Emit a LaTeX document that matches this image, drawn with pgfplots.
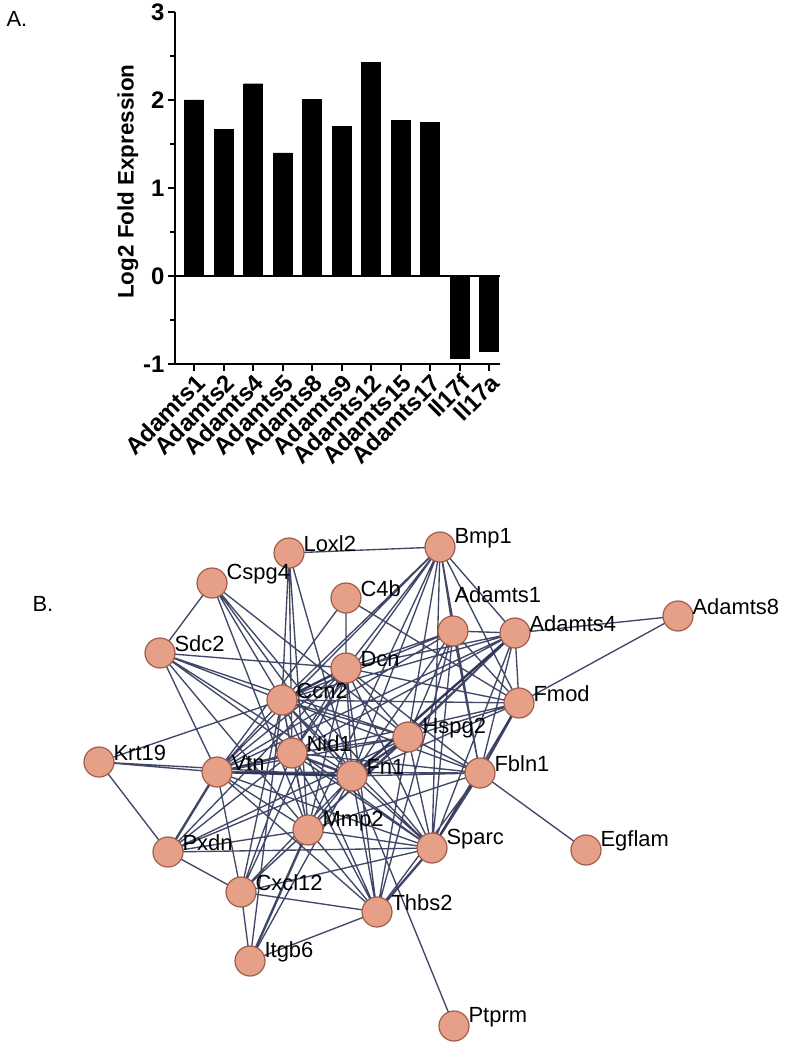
\documentclass[border=0pt]{standalone}
\usepackage{pgfplots}
\pgfplotsset{compat=1.18}
\usepackage{fontspec}
\setmainfont{Liberation Sans}

\definecolor{nodefill}{RGB}{230,160,136}
\definecolor{nodeline}{RGB}{160,92,74}
\definecolor{edgecol}{RGB}{44,52,86}

\pgfplotstableread{
x y label
289 553 Loxl2
440 547 Bmp1
212 583 Cspg4
346 598 C4b
515 633 Adamts4
678 616 Adamts8
160 653 Sdc2
346 668 Dcn
519 703 Fmod
282 700 Ccn2
408 737 Hspg2
292 753 Nid1
99 762 Krt19
217 772 Vtn
352 776 Fn1
480 773 Fbln1
308 830 Mmp2
168 852 Pxdn
432 848 Sparc
586 850 Egflam
241 892 Cxcl12
377 912 Thbs2
250 961 Itgb6
454 1026 Ptprm
}\genes

\begin{document}
\begin{tikzpicture}
\path[use as bounding box] (0,0) rectangle (792bp,1045bp);
\node[anchor=base west, font=\fontsize{22}{22}\selectfont] at (3bp,1018bp) {A.};
\node[anchor=base west, font=\fontsize{22}{22}\selectfont] at (29bp,433bp) {B.};

% panel A: bar chart
\begin{axis}[
  at={(175bp,681bp)}, anchor=south west,
  scale only axis, width=325bp, height=352bp,
  xmin=-0.65, xmax=10.37, ymin=-1, ymax=3,
  axis lines*=left,
  axis line style={line width=2.2bp},
  every tick/.style={black, line width=2bp},
  major tick length=7bp, minor tick length=5bp,
  tick align=outside,
  xtick={0,...,10},
  xticklabels={Adamts1,Adamts2,Adamts4,Adamts5,Adamts8,Adamts9,Adamts12,Adamts15,Adamts17,Il17f,Il17a},
  x tick label style={rotate=45, anchor=north east, inner sep=1pt},
  ytick={-1,0,1,2,3},
  minor ytick={-0.5,0.5,1.5,2.5},
  ticklabel style={font=\fontsize{24}{24}\selectfont\bfseries},
  /pgf/number format/assume math mode=true,
  ylabel={Log2 Fold Expression},
  every axis y label/.style={at={(axis description cs:-0.145,0.518)}, rotate=90, anchor=center, font=\fontsize{22.5}{22.5}\selectfont\bfseries},
  ybar, bar width=19bp,
  clip=false,
]
\addplot[fill=black, draw=black] coordinates {
  (0,2.00) (1,1.667) (2,2.185) (3,1.40) (4,2.01) (5,1.70)
  (6,2.43) (7,1.765) (8,1.746) (9,-0.935) (10,-0.85)};
\addplot[sharp plot, black, line width=2bp] coordinates {(-0.65,0) (10.37,0)};
\end{axis}

% panel B: network
\begin{axis}[
  at={(0,0)}, anchor=south west,
  scale only axis, width=792bp, height=1045bp,
  xmin=0, xmax=792, ymin=0, ymax=1045, y dir=reverse,
  hide axis, clip=false,
  unbounded coords=jump,
]
\addplot[edgecol, line width=1.35bp, opacity=0.9] coordinates {
(289,553) (440,547) (nan,nan) (289,553) (282,700) (nan,nan) (289,553) (292,753) (nan,nan)
(289,553) (352,776) (nan,nan) (289,553) (308,830) (nan,nan) (212,583) (160,653) (nan,nan)
(212,583) (282,700) (nan,nan) (212,583) (352,776) (nan,nan) (212,583) (408,737) (nan,nan)
(212,583) (308,830) (nan,nan) (212,583) (432,848) (nan,nan) (346,598) (346,668) (nan,nan)
(346,598) (217,772) (nan,nan) (346,598) (519,703) (nan,nan) (160,653) (217,772) (nan,nan)
(160,653) (346,668) (nan,nan) (160,653) (352,776) (nan,nan) (160,653) (282,700) (nan,nan)
(160,653) (308,830) (nan,nan) (160,653) (408,737) (nan,nan) (160,653) (432,848) (nan,nan)
(99,762) (282,700) (nan,nan) (99,762) (217,772) (nan,nan) (99,762) (352,776) (nan,nan)
(99,762) (168,852) (nan,nan) (440,547) (346,668) (nan,nan) (440,547) (282,700) (nan,nan)
(440,547) (352,776) (nan,nan) (440,547) (408,737) (nan,nan) (440,547) (453,631) (nan,nan)
(440,547) (515,633) (nan,nan) (440,547) (519,703) (nan,nan) (440,547) (480,773) (nan,nan)
(440,547) (432,848) (nan,nan) (440,547) (292,753) (nan,nan) (440,547) (308,830) (nan,nan)
(440,547) (217,772) (nan,nan) (453,631) (515,633) (nan,nan) (453,631) (346,668) (nan,nan)
(453,631) (352,776) (nan,nan) (453,631) (282,700) (nan,nan) (453,631) (408,737) (nan,nan)
(453,631) (480,773) (nan,nan) (453,631) (432,848) (nan,nan) (453,631) (217,772) (nan,nan)
(453,631) (519,703) (nan,nan) (453,631) (377,912) (nan,nan) (515,633) (678,616) (nan,nan)
(515,633) (519,703) (nan,nan) (515,633) (346,668) (nan,nan) (515,633) (352,776) (nan,nan)
(515,633) (282,700) (nan,nan) (515,633) (408,737) (nan,nan) (515,633) (480,773) (nan,nan)
(515,633) (217,772) (nan,nan) (515,633) (308,830) (nan,nan) (515,633) (432,848) (nan,nan)
(515,633) (292,753) (nan,nan) (678,616) (519,703) (nan,nan) (519,703) (346,668) (nan,nan)
(519,703) (352,776) (nan,nan) (519,703) (432,848) (nan,nan) (519,703) (408,737) (nan,nan)
(519,703) (282,700) (nan,nan) (519,703) (217,772) (nan,nan) (346,668) (282,700) (nan,nan)
(346,668) (352,776) (nan,nan) (346,668) (408,737) (nan,nan) (346,668) (292,753) (nan,nan)
(346,668) (217,772) (nan,nan) (346,668) (308,830) (nan,nan) (346,668) (432,848) (nan,nan)
(346,668) (480,773) (nan,nan) (346,668) (377,912) (nan,nan) (346,668) (241,892) (nan,nan)
(346,668) (168,852) (nan,nan) (282,700) (352,776) (nan,nan) (282,700) (292,753) (nan,nan)
(282,700) (408,737) (nan,nan) (282,700) (217,772) (nan,nan) (282,700) (308,830) (nan,nan)
(282,700) (432,848) (nan,nan) (282,700) (377,912) (nan,nan) (282,700) (241,892) (nan,nan)
(282,700) (480,773) (nan,nan) (282,700) (250,961) (nan,nan) (408,737) (292,753) (nan,nan)
(408,737) (217,772) (nan,nan) (408,737) (308,830) (nan,nan) (408,737) (432,848) (nan,nan)
(408,737) (480,773) (nan,nan) (408,737) (377,912) (nan,nan) (408,737) (168,852) (nan,nan)
(408,737) (241,892) (nan,nan) (292,753) (217,772) (nan,nan) (292,753) (308,830) (nan,nan)
(292,753) (432,848) (nan,nan) (292,753) (480,773) (nan,nan) (292,753) (377,912) (nan,nan)
(292,753) (241,892) (nan,nan) (292,753) (168,852) (nan,nan) (217,772) (352,776) (nan,nan)
(217,772) (241,892) (nan,nan) (217,772) (308,830) (nan,nan) (217,772) (432,848) (nan,nan)
(217,772) (377,912) (nan,nan) (217,772) (480,773) (nan,nan) (352,776) (308,830) (nan,nan)
(352,776) (432,848) (nan,nan) (352,776) (480,773) (nan,nan) (352,776) (377,912) (nan,nan)
(352,776) (241,892) (nan,nan) (352,776) (168,852) (nan,nan) (352,776) (250,961) (nan,nan)
(352,776) (454,1026) (nan,nan) (480,773) (586,850) (nan,nan) (480,773) (377,912) (nan,nan)
(480,773) (308,830) (nan,nan) (308,830) (432,848) (nan,nan) (308,830) (377,912) (nan,nan)
(308,830) (241,892) (nan,nan) (308,830) (168,852) (nan,nan) (168,852) (432,848) (nan,nan)
(168,852) (241,892) (nan,nan) (432,848) (241,892) (nan,nan) (241,892) (377,912) (nan,nan)
(241,892) (250,961) (nan,nan) (377,912) (250,961)
};
% heavier edges
\addplot[edgecol, line width=2.4bp, opacity=0.9] coordinates {
(519,703) (480,773) (nan,nan) (432,848) (377,912) (nan,nan) (217,772) (168,852) (nan,nan)
(308,830) (250,961) (nan,nan) (480,773) (432,848) (nan,nan) (352,776) (408,737) (nan,nan)
(352,776) (292,753) (nan,nan) (282,700) (346,668) (nan,nan) (217,772) (352,776) (nan,nan)
(515,633) (352,776)
};
% genes
\addplot[only marks, mark=*, mark size=15bp,
  mark options={fill=nodefill, draw=nodeline, line width=1.2bp},
  nodes near coords, point meta=explicit symbolic,
  nodes near coords style={anchor=west, xshift=13bp, yshift=9bp, text=black,
    font=\fontsize{22}{22}\selectfont, inner sep=1pt}]
  table[meta=label] {\genes};
\addplot[only marks, mark=*, mark size=15bp,
  mark options={fill=nodefill, draw=nodeline, line width=1.2bp},
  nodes near coords, point meta=explicit symbolic,
  nodes near coords style={anchor=west, xshift=0bp, yshift=36bp, text=black,
    font=\fontsize{22}{22}\selectfont, inner sep=1pt}]
  table[meta=label] {
x y label
453 631 Adamts1
};
\end{axis}
\end{tikzpicture}
\end{document}
